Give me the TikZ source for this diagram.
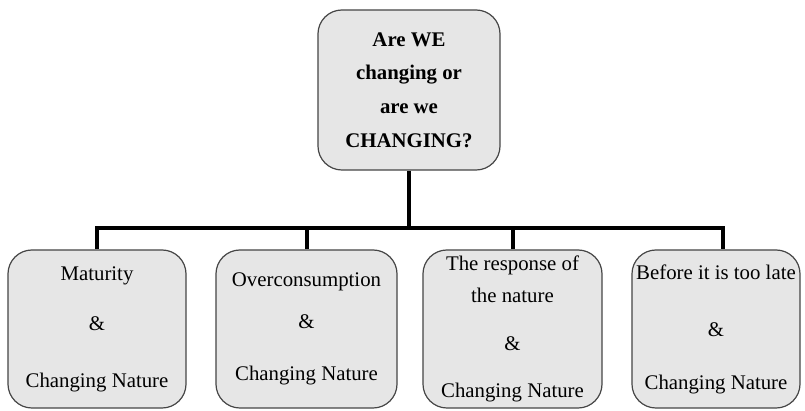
\documentclass[tikz,border=0pt]{standalone}
\usepackage{fontspec}
\setmainfont{Liberation Serif}
\usetikzlibrary{positioning}
\definecolor{BoxFill}{RGB}{230,230,230}
\definecolor{BoxEdge}{RGB}{70,70,70}
\tikzset{
  trunk/.style={line width=0.1cm,draw=black},
  topbox/.style={draw=BoxEdge,fill=BoxFill,line width=0.03cm,rounded corners=0.6cm,
    minimum width=4.55cm,minimum height=4cm,align=center,inner sep=1pt,
    font=\fontsize{14.8}{24}\selectfont\bfseries},
  leafbox/.style={draw=BoxEdge,fill=BoxFill,line width=0.03cm,rounded corners=0.6cm,
    minimum height=3.95cm,align=center,inner sep=1pt,
    font=\fontsize{14.8}{22.7}\selectfont}
}

\begin{document}
\begin{tikzpicture}[x=0.025cm,y=-0.025cm]
  \useasboundingbox (0,0) rectangle (805,411);
  \node[topbox] (question) at (409,90) {Are WE\\changing or\\are we\\CHANGING?};
  \node[leafbox,minimum width=4.45cm] (maturity) at (97,329)
    {Maturity\\[12.8pt]\&\\[17.8pt]Changing Nature};
  \node[leafbox,minimum width=4.525cm] (overuse) at (306.5,329)
    {Overconsumption\\[7pt]\&\\[14pt]Changing Nature};
  \node[leafbox,minimum width=4.475cm] (response) at (512.5,329)
    {The response of\\the nature\\[11.4pt]\&\\[10.7pt]Changing Nature};
  \node[leafbox,minimum width=4.2cm] (late) at (716,329)
    {Before it is too late\\[17.8pt]\&\\[15pt]Changing Nature};
  \coordinate (bar) at (409,228);
  % tree connectors
  \draw[trunk] (question.south) -- (bar);
  \draw[trunk] (maturity.north) |- (bar) -| ([xshift=0.18cm]late.north);
  \foreach \leaf in {overuse,response}
    \draw[trunk] (\leaf.north) -- (\leaf.north |- bar);
\end{tikzpicture}
\end{document}
